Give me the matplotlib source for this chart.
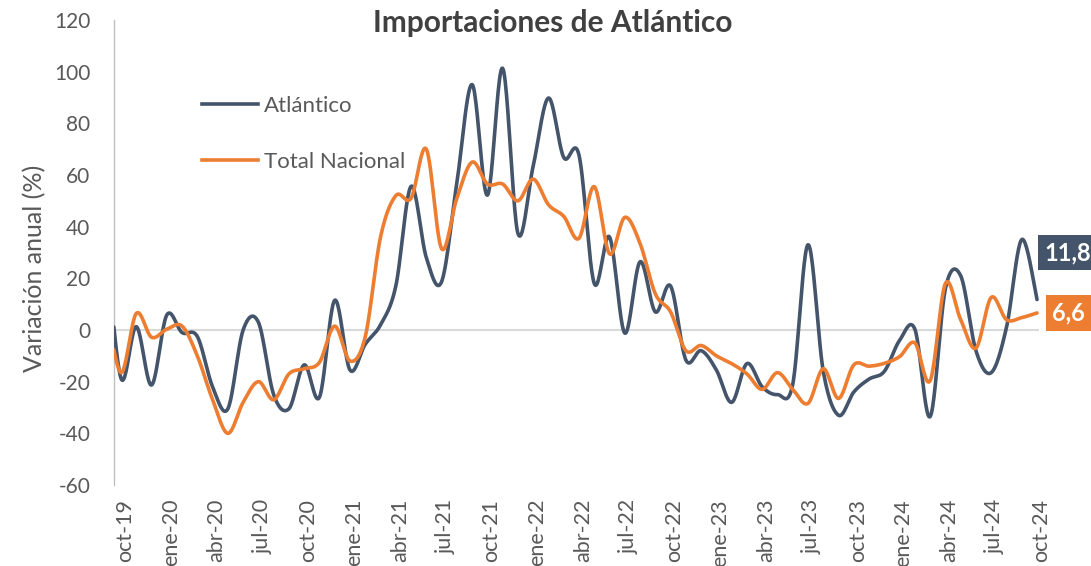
import numpy as np
import matplotlib
matplotlib.use("Agg")
import matplotlib.pyplot as plt
from matplotlib.lines import Line2D
from matplotlib.transforms import ScaledTranslation

# Monthly series, sep-19 .. oct-24 (sep-19 only feeds the curve's entry at the axis)
atlantico = [35, -18.7, 1.3, -21.3, 5.8, -1, -2.5, -22, -30.5, 0, 3,
             -25, -30.5, -13.5, -26, 11.5, -15.5, -5.5, 2, 17, 55.6,
             28, 18.7, 57, 95, 52.2, 101.3, 37.4, 63.5, 89.8, 66.8,
             67.7, 18, 36, -1.2, 26.4, 7, 17, -11.6, -8, -15.5,
             -28, -13, -22, -25, -21, 33, -16, -33, -24, -19,
             -16, -4, 0.3, -33.5, 16, 21, -8, -16.5, 1, 35, 11.8]
nacional = [10, -16.5, 6.4, -2.8, 0.3, 1.5, -10, -27, -40, -28, -20,
            -27, -17, -15, -12.5, 1.5, -12, -2.6, 36, 52, 51,
            70, 31.5, 51, 65, 56.5, 56.5, 50, 58.4, 48.5, 44,
            35.5, 55.5, 29.5, 43.6, 33.5, 14, 7, -8, -6, -10,
            -13, -17, -23, -16.5, -23, -28.4, -15, -26.5, -13.5, -14,
            -12.9, -10.3, -5, -19.6, 18, 4, -7, 12.6, 4, 4.8, 6.6]

tick_labels = ["oct-19", "ene-20", "abr-20", "jul-20", "oct-20", "ene-21",
               "abr-21", "jul-21", "oct-21", "ene-22", "abr-22", "jul-22",
               "oct-22", "ene-23", "abr-23", "jul-23", "oct-23", "ene-24",
               "abr-24", "jul-24", "oct-24"]

series_names = ["Atlántico", "Total Nacional"]
colors = ["#44546A", "#ED7D31"]
label_atl = "11,8"
label_nac = "6,6"

FONT = "Lato"
GRAY = "#595959"
DARK = "#404040"


def smooth(x, y, n=24):
    """Bezier smoothing through every point (Catmull-Rom style tangents)."""
    x = np.asarray(x, float)
    y = np.asarray(y, float)
    px = np.concatenate([[x[0]], x, [x[-1]]])
    py = np.concatenate([[y[0]], y, [y[-1]]])
    t = np.linspace(0, 1, n, endpoint=False)
    xs, ys = [], []
    for i in range(1, len(px) - 2):
        p0x, p1x, p2x, p3x = px[i - 1], px[i], px[i + 1], px[i + 2]
        p0y, p1y, p2y, p3y = py[i - 1], py[i], py[i + 1], py[i + 2]
        b1x, b1y = p1x + (p2x - p0x) / 6, p1y + (p2y - p0y) / 6
        b2x, b2y = p2x - (p3x - p1x) / 6, p2y - (p3y - p1y) / 6
        c = [(1 - t) ** 3, 3 * (1 - t) ** 2 * t, 3 * (1 - t) * t ** 2, t ** 3]
        xs.append(c[0] * p1x + c[1] * b1x + c[2] * b2x + c[3] * p2x)
        ys.append(c[0] * p1y + c[1] * b1y + c[2] * b2y + c[3] * p2y)
    xs.append([x[-1]])
    ys.append([y[-1]])
    return np.concatenate(xs), np.concatenate(ys)


W, H = 1091, 566
fig = plt.figure(figsize=(W / 100, H / 100), dpi=100)
left_px, right_px, top_px, bot_px = 114, 1039, 20, 485
ax = fig.add_axes([left_px / W, 1 - bot_px / H,
                   (right_px - left_px) / W, (bot_px - top_px) / H])

months = np.arange(len(atlantico)) - 1  # oct-19 -> 0

for vals, col in zip([atlantico, nacional], colors):
    sx, sy = smooth(months, vals)
    ax.plot(sx, sy, color=col, lw=2.6, solid_capstyle="round", zorder=3)

ax.set_xlim(-0.458, 60.13)
ax.set_ylim(-60, 120)

# zero baseline
ax.axhline(0, color="#D9D9D9", lw=1.5, zorder=1)

for s in ["top", "right", "bottom"]:
    ax.spines[s].set_visible(False)
ax.spines["left"].set_color("#BFBFBF")
ax.spines["left"].set_linewidth(1.0)

ax.set_yticks(np.arange(-60, 121, 20))
ax.set_yticklabels([str(v) for v in range(-60, 121, 20)])
ax.tick_params(axis="y", length=0, pad=17, labelsize=15, labelcolor=GRAY)
for lab in ax.get_yticklabels():
    lab.set_fontfamily(FONT)

ax.set_xticks(np.arange(0, 61, 3))
ax.set_xticklabels(tick_labels, rotation=90, va="top", ha="center")
ax.tick_params(axis="x", length=0, pad=10, labelsize=15.5, labelcolor=GRAY)
shift = ScaledTranslation(4 / 100, 0, fig.dpi_scale_trans)
for lab in ax.get_xticklabels():
    lab.set_fontfamily(FONT)
    lab.set_transform(lab.get_transform() + shift)

# legend
handles = [Line2D([], [], color=c, lw=2.6) for c in colors]
leg = ax.legend(handles, series_names, loc="upper left",
                bbox_to_anchor=(182 / W, 1 - 76 / H), bbox_transform=fig.transFigure,
                frameon=False, handlelength=2.5, handletextpad=0.3,
                labelspacing=1.62, prop={"family": FONT, "size": 16})
for t in leg.get_texts():
    t.set_color(GRAY)

# end-of-series value labels
ax.annotate(label_atl, xy=(60, atlantico[-1]), xytext=(7, 47),
            textcoords="offset pixels", ha="left", va="center",
            color="white", fontsize=17, fontweight="bold", family=FONT,
            bbox=dict(boxstyle="square,pad=0.27", fc=colors[0], ec="none"),
            annotation_clip=False, zorder=5)
ax.annotate(label_nac, xy=(60, nacional[-1]), xytext=(15, 0),
            textcoords="offset pixels", ha="left", va="center",
            color="white", fontsize=17, fontweight="bold", family=FONT,
            bbox=dict(boxstyle="square,pad=0.27", fc=colors[1], ec="none"),
            annotation_clip=False, zorder=5)

fig.text(553 / W, 1 - 23 / H, "Importaciones de Atlántico", ha="center", va="center",
         fontsize=21.5, fontweight="bold", color=DARK, family=FONT)
fig.text(35 / W, 1 - 268 / H, "Variación anual (%)", rotation=90, ha="center",
         va="center", fontsize=18, color=GRAY, family=FONT)

fig.savefig("out.png", dpi=100)
